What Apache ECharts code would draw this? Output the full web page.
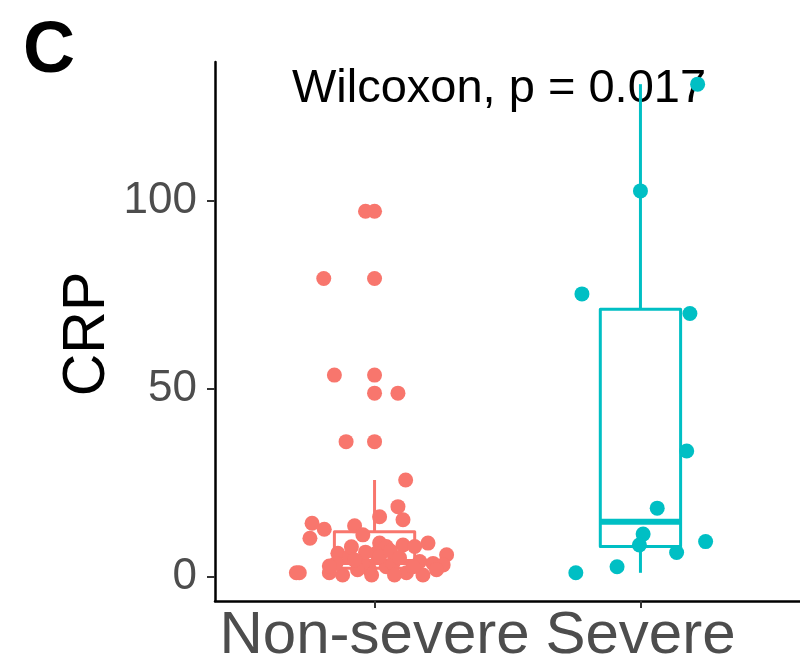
<!DOCTYPE html>
<html>
<head>
<meta charset="utf-8">
<script src="https://cdn.jsdelivr.net/npm/echarts@6/dist/echarts.min.js"></script>
<style>
  html, body { margin: 0; padding: 0; background: #fff; }
  #chart { width: 800px; height: 667px; }
</style>
</head>
<body>
<div id="chart"></div>
<script>
// ---- data ----
const categories = ['Non-severe', 'Severe'];
const groupColors = ['#F8766D', '#00BFC4'];
const yTicks = [0, 50, 100];
const panelLabel = 'C';
const yTitle = 'CRP';
const testLabel = 'Wilcoxon, p = 0.017';

// jittered x positions (category 1 = Non-severe, 2 = Severe) and CRP values
const nonSevereX = [0.966, 1.000, 0.809, 1.000, 0.849, 1.000, 1.000, 1.088, 0.893, 1.000,
  1.117, 1.088, 1.107, 1.019, 0.765, 0.811, 0.757, 0.925, 0.956, 1.019,
  1.044, 1.107, 1.151, 1.201, 0.862, 0.906, 1.006, 0.717, 0.830, 0.880,
  0.981, 1.044, 1.120, 1.182, 1.170, 1.220, 1.271, 1.258, 0.855, 0.956,
  1.069, 1.019, 1.145, 1.233, 0.706, 0.936, 1.075, 0.913, 0.966, 1.060,
  0.925, 1.094, 0.830, 0.989];
const nonSevereY = [97.3, 97.3, 79.4, 79.4, 53.7, 53.7, 48.9, 48.9, 36.0, 36.0,
  25.8, 18.7, 15.2, 16.0, 14.3, 12.7, 10.3, 13.6, 11.2, 9.0,
  8.1, 8.5, 8.1, 9.0, 6.3, 5.4, 6.3, 1.1, 1.1, 0.5,
  2.0, 2.7, 1.1, 0.5, 4.1, 3.6, 5.9, 3.2, 3.6, 3.6,
  3.6, 5.4, 2.7, 1.9, 1.1, 1.9, 0.5, 8.0, 6.6, 6.9,
  4.5, 5.1, 2.9, 0.5];

const severeX = [2.215, 2.000, 1.780, 2.186, 2.174, 2.063, 2.010, 1.996, 2.136, 2.245, 1.912, 1.757];
const severeY = [131.1, 102.7, 75.3, 70.1, 33.5, 18.3, 11.4, 8.5, 6.5, 9.4, 2.7, 1.1];

// box statistics: [lower whisker, Q1, median, Q3, upper whisker]
const nonSevereBox = [0.5, 2.3, 4.0, 12.0, 25.8];
const severeBox = [1.1, 8.1, 14.7, 71.2, 131.1];

// ---- chart ----
const chart = echarts.init(document.getElementById('chart'), null, { renderer: 'canvas' });
const FONT = '"Liberation Sans", Arial, Helvetica, sans-serif';

function zip(xs, ys) { return xs.map((x, i) => [x, ys[i]]); }

const boxData = [
  [1].concat(nonSevereBox).concat([0]),
  [2].concat(severeBox).concat([1])
];

const BOX_HALF = 0.151;

function renderBox(params, api) {
  const x = api.value(0);
  const color = groupColors[api.value(6)];
  const low = api.coord([x, api.value(1)]);
  const q1 = api.coord([x, api.value(2)]);
  const med = api.coord([x, api.value(3)]);
  const q3 = api.coord([x, api.value(4)]);
  const high = api.coord([x, api.value(5)]);
  const left = api.coord([x - BOX_HALF, 0])[0];
  const right = api.coord([x + BOX_HALF, 0])[0];
  const cx = low[0];
  const lw = 3;
  return {
    type: 'group',
    children: [
      { type: 'line', shape: { x1: cx, y1: high[1], x2: cx, y2: q3[1] }, style: { stroke: color, lineWidth: lw } },
      { type: 'line', shape: { x1: cx, y1: q1[1], x2: cx, y2: low[1] }, style: { stroke: color, lineWidth: lw } },
      { type: 'rect', shape: { x: left, y: q3[1], width: right - left, height: q1[1] - q3[1] },
        style: { fill: '#ffffff', stroke: color, lineWidth: lw, lineJoin: 'round' } },
      { type: 'line', shape: { x1: left, y1: med[1], x2: right, y2: med[1] }, style: { stroke: color, lineWidth: 6 } }
    ]
  };
}

const option = {
  animation: false,
  backgroundColor: '#ffffff',
  grid: { left: 215, right: 0, top: 62, bottom: 66, containLabel: false },
  xAxis: {
    type: 'value',
    min: 0.4,
    max: 2.6,
    splitLine: { show: false },
    axisLine: { show: true, onZero: false, lineStyle: { color: '#000', width: 2.5 } },
    axisTick: { show: true, customValues: [1, 2], length: 7, lineStyle: { color: '#333', width: 2 } },
    axisLabel: {
      show: true,
      customValues: [1, 2],
      formatter: v => categories[Math.round(v) - 1],
      color: '#4D4D4D',
      fontSize: 60,
      fontFamily: FONT,
      margin: 5
    }
  },
  yAxis: {
    type: 'value',
    min: -6.4,
    max: 137,
    splitLine: { show: false },
    axisLine: { show: true, onZero: false, lineStyle: { color: '#000', width: 2.5 } },
    axisTick: { show: true, customValues: yTicks, length: 8, lineStyle: { color: '#333', width: 2 } },
    axisLabel: {
      show: true,
      customValues: yTicks,
      color: '#4D4D4D',
      fontSize: 44,
      fontFamily: FONT,
      margin: 18
    }
  },
  graphic: [
    { type: 'text', x: 49, y: 52, style: { text: panelLabel, font: 'bold 72px ' + FONT, fill: '#000', align: 'center', verticalAlign: 'middle' } },
    { type: 'text', x: 499, y: 89, style: { text: testLabel, font: '47px ' + FONT, fill: '#000', align: 'center', verticalAlign: 'middle' } },
    { type: 'text', x: 88, y: 334, rotation: Math.PI / 2, style: { text: yTitle, font: '59px ' + FONT, fill: '#000', align: 'center', verticalAlign: 'middle' } }
  ],
  series: [
    {
      type: 'custom',
      renderItem: renderBox,
      data: boxData,
      encode: { x: 0, y: [1, 2, 3, 4, 5] },
      z: 1,
      silent: true
    },
    {
      type: 'scatter',
      data: zip(nonSevereX, nonSevereY),
      symbol: 'circle',
      symbolSize: 15,
      itemStyle: { color: groupColors[0], opacity: 1 },
      z: 2,
      silent: true
    },
    {
      type: 'scatter',
      data: zip(severeX, severeY),
      symbol: 'circle',
      symbolSize: 15,
      itemStyle: { color: groupColors[1], opacity: 1 },
      z: 2,
      silent: true
    }
  ]
};
chart.setOption(option);
</script>
</body>
</html>
